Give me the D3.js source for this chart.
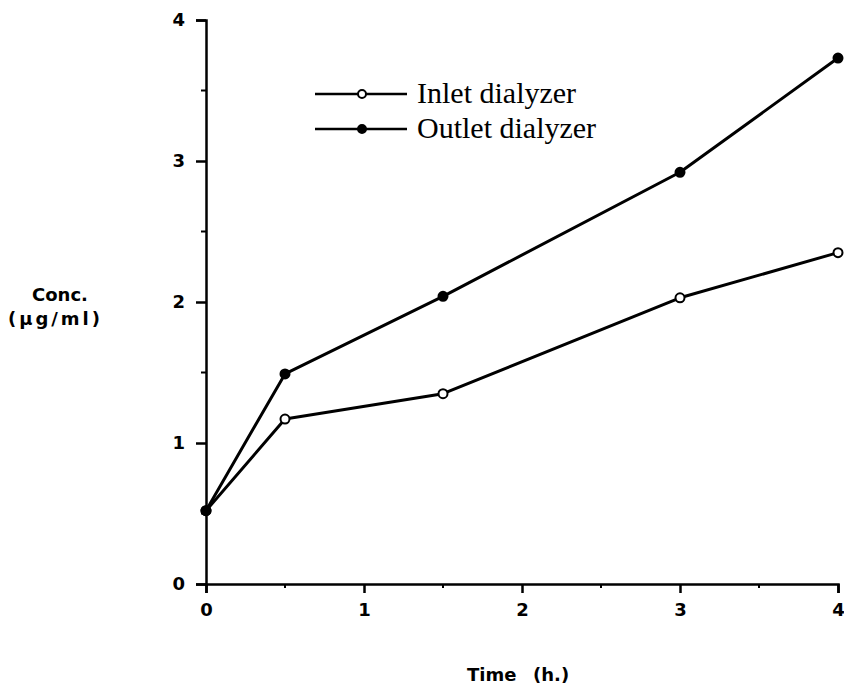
<!DOCTYPE html>
<html><head><meta charset="utf-8">
<script src="https://cdn.jsdelivr.net/npm/d3@7"></script>
<style>body{margin:0;background:#fff}</style>
</head><body>
<script>
const times = [0, 0.5, 1.5, 3, 4];
const inlet = [0.52, 1.17, 1.35, 2.03, 2.35];
const outlet = [0.52, 1.49, 2.04, 2.92, 3.73];
const xTicks = [0, 1, 2, 3, 4];
const yTicks = [0, 1, 2, 3, 4];
const minorTicks = [0.5, 1.5, 2.5, 3.5];
const seriesNames = ["Inlet dialyzer", "Outlet dialyzer"];

const W = 844, H = 687;
const svg = d3.select("body").append("svg").attr("width", W).attr("height", H);
const x = d3.scaleLinear().domain([0, 4]).range([206, 838]);
const y = d3.scaleLinear().domain([0, 4]).range([584, 20]);
const sans = "'DejaVu Sans', Verdana, sans-serif";

// axes
const xa = svg.append("g").attr("transform", `translate(0,${y(0)})`)
  .call(d3.axisBottom(x).tickValues(xTicks).tickFormat(d3.format("d")).tickSize(9).tickPadding(10));
const ya = svg.append("g").attr("transform", `translate(${x(0)},0)`)
  .call(d3.axisLeft(y).tickValues(yTicks).tickFormat(d3.format("d")).tickSize(10).tickPadding(11));
[xa, ya].forEach(a => {
  a.attr("font-size", null).attr("font-family", null);
  a.select(".domain").attr("stroke", "#000").attr("stroke-width", 2.5);
  a.selectAll(".tick line").attr("stroke", "#000").attr("stroke-width", 2.5);
  a.selectAll(".tick text").style("font-family", sans).style("font-weight", "bold")
    .style("font-size", "18px").attr("fill", "#000");
});
// minor ticks
xa.selectAll(".minor").data(minorTicks).enter().append("line")
  .attr("x1", d => x(d)).attr("x2", d => x(d)).attr("y1", 0).attr("y2", 4)
  .attr("stroke", "#000").attr("stroke-width", 2);
ya.selectAll(".minor").data(minorTicks).enter().append("line")
  .attr("y1", d => y(d)).attr("y2", d => y(d)).attr("x1", 0).attr("x2", -5)
  .attr("stroke", "#000").attr("stroke-width", 2);

// axis titles
const titleStyle = t => t.style("font-family", sans).style("font-weight", "bold").style("font-size", "18px").attr("fill", "#000");
svg.append("text").attr("x", 467).attr("y", 681).text("Time").call(titleStyle);
svg.append("text").attr("x", 533).attr("y", 681).text("(h.)").call(titleStyle);
svg.append("text").attr("x", 32).attr("y", 301).text("Conc.").call(titleStyle);
svg.append("text").attr("x", 8).attr("y", 325).attr("textLength", 92).attr("lengthAdjust", "spacing")
  .text("(\u00b5g/ml)").call(titleStyle);

// lines
const line = d3.line().x(d => x(d[0])).y(d => y(d[1]));
const series = [
  {vals: inlet, fill: "#fff"},
  {vals: outlet, fill: "#000"}
];
series.forEach(s => {
  const pts = times.map((t, i) => [t, s.vals[i]]);
  svg.append("path").datum(pts).attr("d", line).attr("fill", "none")
    .attr("stroke", "#000").attr("stroke-width", 3).attr("stroke-linejoin", "round");
  svg.selectAll(null).data(pts).enter().append("circle")
    .attr("cx", d => x(d[0])).attr("cy", d => y(d[1])).attr("r", 4.5)
    .attr("fill", s.fill).attr("stroke", "#000").attr("stroke-width", 2);
});

// legend
const lg = svg.append("g");
const ly = [94, 129];
series.forEach((s, i) => {
  lg.append("line").attr("x1", 315).attr("x2", 407).attr("y1", ly[i]).attr("y2", ly[i])
    .attr("stroke", "#000").attr("stroke-width", 2.5);
  lg.append("circle").attr("cx", 362).attr("cy", ly[i]).attr("r", 4)
    .attr("fill", s.fill).attr("stroke", "#000").attr("stroke-width", 2);
  lg.append("text").attr("x", 417).attr("y", ly[i] + 9)
    .style("font-family", "'Liberation Serif', 'Times New Roman', serif").style("font-size", "30px")
    .attr("fill", "#000").text(seriesNames[i]);
});
</script>
</body></html>
